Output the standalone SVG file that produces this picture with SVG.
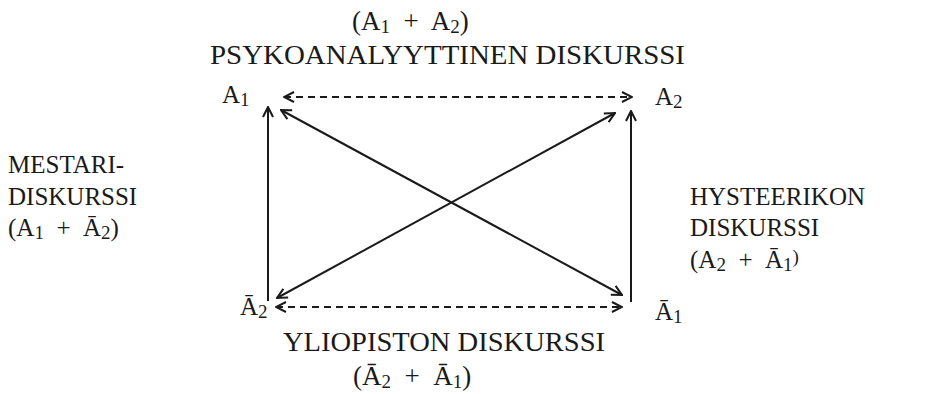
<svg xmlns="http://www.w3.org/2000/svg" width="934" height="394" viewBox="0 0 934 394">
<style>
text{font-family:"Liberation Serif","DejaVu Serif",serif;font-size:25px;fill:#1a1a1a}
.big{font-size:27px}
.sub{font-size:19px}
.ln{stroke:#1a1a1a;stroke-width:2;fill:none}
.dash{stroke-dasharray:7 5}
</style>
<defs>
<marker id="ah" viewBox="0 0 12 12" refX="11" refY="6" markerWidth="12" markerHeight="12" markerUnits="userSpaceOnUse" orient="auto-start-reverse">
<path d="M1,1 L11,6 L1,11" fill="none" stroke="#1a1a1a" stroke-width="2"/>
</marker>
</defs>
<rect width="934" height="394" fill="#fff"/>
<g id="connectors">
<line class="ln" x1="268" y1="301" x2="268" y2="107" marker-end="url(#ah)"/>
<line class="ln" x1="631" y1="302" x2="631" y2="111" marker-end="url(#ah)"/>
<line class="ln dash" x1="284" y1="97" x2="632" y2="97" marker-start="url(#ah)" marker-end="url(#ah)"/>
<line class="ln dash" x1="276" y1="307" x2="622" y2="307" marker-start="url(#ah)" marker-end="url(#ah)"/>
<line class="ln" x1="281" y1="110" x2="622" y2="295" marker-start="url(#ah)" marker-end="url(#ah)"/>
<line class="ln" x1="277" y1="298" x2="615" y2="113" marker-start="url(#ah)" marker-end="url(#ah)"/>
</g>
<g id="top">
<text class="big" x="352" y="30">(A<tspan class="sub" dy="3">1</tspan><tspan dy="-3" xml:space="preserve">  +  A</tspan><tspan class="sub" dy="3">2</tspan><tspan dy="-3">)</tspan></text>
<text class="big" x="210" y="64" textLength="475" lengthAdjust="spacingAndGlyphs">PSYKOANALYYTTINEN DISKURSSI</text>
</g>
<g id="A1"><text x="222" y="103">A<tspan class="sub" dy="3">1</tspan></text></g>
<g id="A2"><text x="655" y="105">A<tspan class="sub" dy="3">2</tspan></text></g>
<g id="left">
<text x="8" y="173">MESTARI-</text>
<text x="8" y="205">DISKURSSI</text>
<text x="8" y="236">(A<tspan class="sub" dy="3">1</tspan><tspan dy="-3" xml:space="preserve">  +  Ā</tspan><tspan class="sub" dy="3">2</tspan><tspan dy="-3">)</tspan></text>
</g>
<g id="right">
<text x="690" y="205">HYSTEERIKON</text>
<text x="690" y="236">DISKURSSI</text>
<text x="690" y="268">(A<tspan class="sub" dy="3">2</tspan><tspan dy="-3" xml:space="preserve">  +  Ā</tspan><tspan class="sub" dy="3">1</tspan><tspan class="sub" dy="-8">)</tspan></text>
</g>
<g id="notA2"><text x="240" y="315">Ā<tspan class="sub" dy="3">2</tspan></text></g>
<g id="notA1"><text x="655" y="320">Ā<tspan class="sub" dy="3">1</tspan></text></g>
<g id="bottom">
<text class="big" x="283" y="351" textLength="322" lengthAdjust="spacingAndGlyphs">YLIOPISTON DISKURSSI</text>
<text class="big" x="353" y="385">(Ā<tspan class="sub" dy="3">2</tspan><tspan dy="-3" xml:space="preserve">  +  Ā</tspan><tspan class="sub" dy="3">1</tspan><tspan dy="-3">)</tspan></text>
</g>
</svg>
